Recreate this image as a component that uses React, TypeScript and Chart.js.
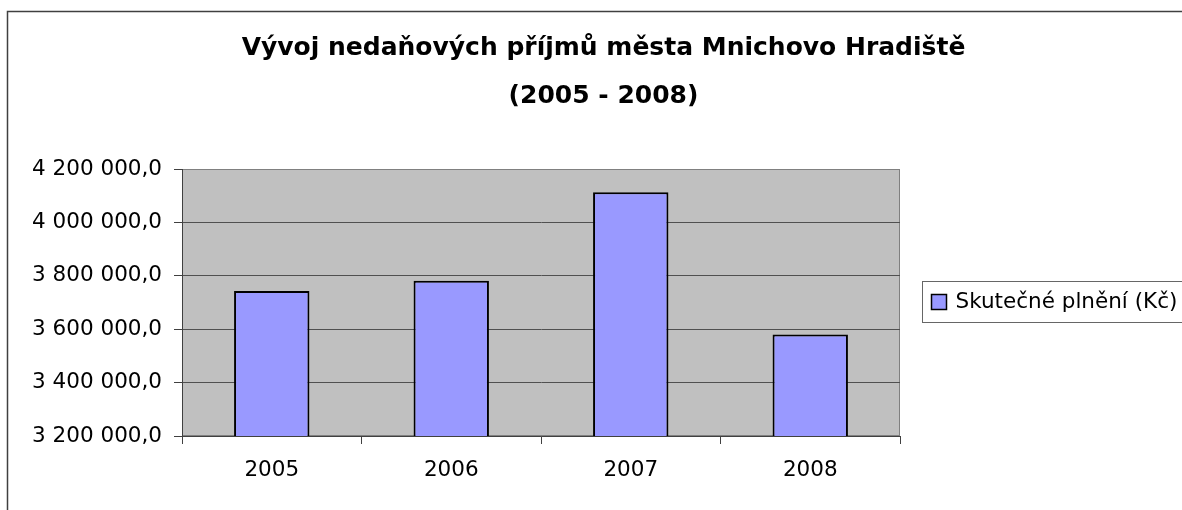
import React, { useEffect, useRef } from "react";
import { Chart, registerables } from "chart.js";

Chart.register(...registerables);

const categories = ["2005", "2006", "2007", "2008"];
const seriesLabel = "Skutečné plnění (Kč)";
const seriesValues = [3743000, 3781000, 4113000, 3580000];
const titleLines = ["Vývoj nedaňových příjmů města Mnichovo Hradiště", "(2005 - 2008)"];
const yMin = 3200000;
const yMax = 4200000;
const yStep = 200000;

const FONT = '"DejaVu Sans", sans-serif';
const TICK_SIZE = 21.5;

function formatCz(v: number): string {
  const s = Math.round(v).toString().replace(/\B(?=(\d{3})+(?!\d))/g, " ");
  return s + ",0";
}

const decorPlugin = {
  id: "decor",
  beforeDraw(chart: any) {
    const { ctx, chartArea: a } = chart;
    ctx.save();
    // outer frame
    ctx.strokeStyle = "#404040";
    ctx.lineWidth = 1.5;
    ctx.strokeRect(7.5, 11.5, 4000, 4000);
    // plot background
    ctx.fillStyle = "#C0C0C0";
    ctx.fillRect(a.left, a.top, a.right - a.left, a.bottom - a.top);
    ctx.strokeStyle = "#808080";
    ctx.lineWidth = 1;
    ctx.strokeRect(a.left + 0.5, a.top + 0.5, a.right - a.left - 1, a.bottom - a.top - 1);
    ctx.restore();
  },
  afterDraw(chart: any) {
    const { ctx, chartArea: a } = chart;
    const ds = chart.data.datasets[0];
    ctx.save();
    const boxLeft = Math.round(a.right + 22) + 0.5;
    const cy = (a.top + a.bottom) / 2 - 1.5;
    const boxTop = Math.round(cy - 20) + 0.5;
    ctx.fillStyle = "#ffffff";
    ctx.fillRect(boxLeft, boxTop, 400, 41);
    ctx.strokeStyle = "#666666";
    ctx.lineWidth = 1;
    ctx.strokeRect(boxLeft, boxTop, 400, 41);
    // marker
    const mx = boxLeft + 9;
    const my = Math.round(cy - 7) + 0.5;
    ctx.fillStyle = ds.backgroundColor;
    ctx.fillRect(mx, my, 15, 15);
    ctx.strokeStyle = "#000000";
    ctx.lineWidth = 1.5;
    ctx.strokeRect(mx, my, 15, 15);
    // label
    ctx.fillStyle = "#000000";
    ctx.font = `${TICK_SIZE}px ${FONT}`;
    ctx.textBaseline = "middle";
    ctx.textAlign = "left";
    ctx.fillText(ds.label, boxLeft + 33, cy + 1);
    ctx.restore();
  },
};

export default function App() {
  const ref = useRef<HTMLCanvasElement | null>(null);

  useEffect(() => {
    document.body.style.margin = "0";
    const canvas = ref.current;
    if (!canvas) return;
    const chart = new Chart(canvas, {
      type: "bar",
      data: {
        labels: categories,
        datasets: [
          {
            label: seriesLabel,
            data: seriesValues,
            backgroundColor: "#9999FF",
            borderColor: "#000000",
            borderWidth: 2,
            borderSkipped: false,
            categoryPercentage: 1,
            barPercentage: 0.42,
            yAxisID: "y",
          },
        ],
      },
      options: {
        responsive: false,
        animation: false,
        layout: { padding: { left: 25, right: 0, top: 0, bottom: 0 } },
        plugins: {
          legend: { display: false },
          tooltip: { enabled: false },
          title: {
            display: true,
            text: titleLines,
            color: "#000000",
            font: { family: FONT, size: 25, weight: "bold", lineHeight: 1.9 },
            padding: { top: 25, bottom: 49 },
          },
        },
        scales: {
          x: {
            type: "category",
            grid: {
              offset: true,
              drawOnChartArea: false,
              drawTicks: true,
              tickLength: 8,
              color: "#404040",
            },
            border: { display: true, color: "#404040", width: 1 },
            ticks: {
              color: "#000000",
              padding: 14,
              font: { family: FONT, size: TICK_SIZE },
              maxRotation: 0,
            },
            afterFit: (s: any) => {
              s.height = 74;
            },
          },
          y: {
            type: "linear",
            position: "left",
            min: yMin,
            max: yMax,
            grid: {
              color: (c: any) => (c.tick && c.tick.value === yMax ? "#808080" : "#505050"),
              tickColor: "#404040",
              tickLength: 8,
              lineWidth: 1,
            },
            border: { display: true, color: "#404040", width: 1 },
            ticks: {
              stepSize: yStep,
              color: "#000000",
              padding: 12,
              font: { family: FONT, size: TICK_SIZE },
              callback: (v: any) => formatCz(Number(v)),
            },
            afterFit: (s: any) => {
              s.width = 157;
            },
          },
          yRight: {
            type: "linear",
            position: "right",
            display: true,
            grid: { display: false, drawTicks: false },
            border: { display: false },
            ticks: { display: false },
            afterFit: (s: any) => {
              s.width = 282;
            },
          },
        },
      },
      plugins: [decorPlugin],
    });
    return () => chart.destroy();
  }, []);

  return (
    <div style={{ width: 1182, height: 510, overflow: "hidden" }}>
      <canvas ref={ref} width={1182} height={510} style={{ display: "block" }} />
    </div>
  );
}
